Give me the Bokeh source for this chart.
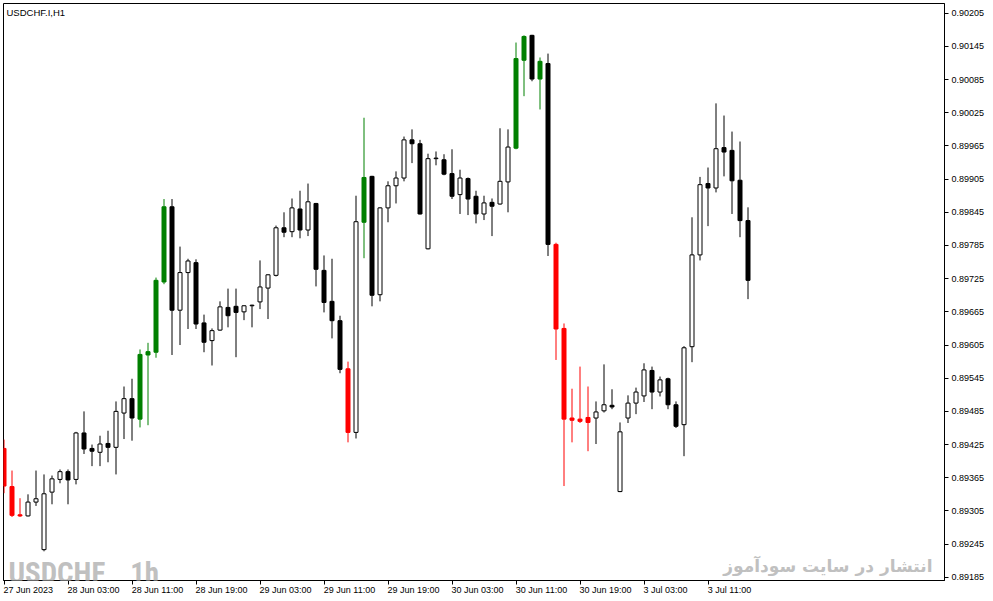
from bokeh.plotting import figure
from bokeh.models import (Range1d, FixedTicker, PrintfTickFormatter, Label, ColumnDataSource,
                          LinearAxis, CustomJSTickFormatter)
from bokeh.embed import file_html
from bokeh.resources import INLINE

chart_title = "USDCHF.I,H1"
watermark_left = "USDCHF _ 1h"
watermark_right = "انتشار در سایت سودآموز"

opens = [0.89418, 0.89349, 0.89298, 0.89296, 0.89321, 0.89235, 0.89339, 0.89362, 0.89376, 0.89362,
         0.89446, 0.89418, 0.89411, 0.89427, 0.89420, 0.89482, 0.89508, 0.89471, 0.89587, 0.89592,
         0.89719, 0.89855, 0.89668, 0.89736, 0.89754, 0.89645, 0.89613, 0.89632, 0.89673, 0.89675,
         0.89665, 0.89676, 0.89683, 0.89708, 0.89731, 0.89817, 0.89810, 0.89851, 0.89813, 0.89861,
         0.89740, 0.89684, 0.89649, 0.89562, 0.89447, 0.89827, 0.89910, 0.89696, 0.89853, 0.89893,
         0.89907, 0.89976, 0.89969, 0.89779, 0.89942, 0.89940, 0.89915, 0.89877, 0.89906, 0.89874,
         0.89842, 0.89863, 0.89860, 0.89900, 0.89961, 0.90120, 0.90165, 0.90086, 0.90114, 0.89787,
         0.89635, 0.89473, 0.89471, 0.89474, 0.89473, 0.89486, 0.89496, 0.89340, 0.89473, 0.89500,
         0.89513, 0.89559, 0.89520, 0.89544, 0.89497, 0.89461, 0.89602, 0.89768, 0.89897, 0.89889,
         0.89962, 0.89957, 0.89903, 0.89830]
highs = [0.89434, 0.89378, 0.89328, 0.89335, 0.89378, 0.89371, 0.89369, 0.89380, 0.89380, 0.89448,
         0.89485, 0.89425, 0.89441, 0.89450, 0.89503, 0.89530, 0.89544, 0.89597, 0.89609, 0.89727,
         0.89869, 0.89869, 0.89783, 0.89761, 0.89760, 0.89660, 0.89635, 0.89684, 0.89707, 0.89707,
         0.89677, 0.89678, 0.89758, 0.89733, 0.89821, 0.89845, 0.89870, 0.89884, 0.89897, 0.89862,
         0.89767, 0.89761, 0.89658, 0.89575, 0.89875, 0.90016, 0.89911, 0.89854, 0.89901, 0.89919,
         0.89982, 0.89995, 0.89976, 0.89951, 0.89955, 0.89950, 0.89959, 0.89922, 0.89908, 0.89884,
         0.89875, 0.89870, 0.89997, 0.89995, 0.90152, 0.90165, 0.90166, 0.90125, 0.90132, 0.89790,
         0.89644, 0.89526, 0.89566, 0.89530, 0.89503, 0.89570, 0.89525, 0.89465, 0.89514, 0.89528,
         0.89572, 0.89566, 0.89548, 0.89546, 0.89503, 0.89603, 0.89836, 0.89909, 0.89926, 0.90042,
         0.90020, 0.89991, 0.89973, 0.89854]
lows = [0.89337, 0.89294, 0.89294, 0.89295, 0.89314, 0.89232, 0.89317, 0.89355, 0.89317, 0.89353,
        0.89408, 0.89386, 0.89386, 0.89393, 0.89371, 0.89435, 0.89432, 0.89456, 0.89460, 0.89582,
        0.89715, 0.89587, 0.89605, 0.89634, 0.89634, 0.89592, 0.89568, 0.89631, 0.89637, 0.89583,
        0.89650, 0.89637, 0.89670, 0.89652, 0.89729, 0.89800, 0.89800, 0.89798, 0.89802, 0.89711,
        0.89664, 0.89617, 0.89554, 0.89429, 0.89436, 0.89762, 0.89675, 0.89684, 0.89827, 0.89861,
        0.89901, 0.89934, 0.89841, 0.89778, 0.89930, 0.89912, 0.89869, 0.89842, 0.89840, 0.89825,
        0.89831, 0.89802, 0.89859, 0.89845, 0.89959, 0.90055, 0.90082, 0.90031, 0.89766, 0.89578,
        0.89350, 0.89429, 0.89464, 0.89413, 0.89426, 0.89483, 0.89489, 0.89339, 0.89464, 0.89480,
        0.89502, 0.89489, 0.89512, 0.89489, 0.89455, 0.89404, 0.89574, 0.89758, 0.89820, 0.89881,
        0.89910, 0.89842, 0.89800, 0.89688]
closes = [0.89350, 0.89297, 0.89296, 0.89321, 0.89327, 0.89336, 0.89363, 0.89376, 0.89361, 0.89446,
          0.89417, 0.89413, 0.89426, 0.89420, 0.89485, 0.89508, 0.89473, 0.89588, 0.89593, 0.89722,
          0.89855, 0.89668, 0.89736, 0.89757, 0.89643, 0.89610, 0.89631, 0.89674, 0.89658, 0.89664,
          0.89676, 0.89677, 0.89710, 0.89732, 0.89817, 0.89809, 0.89853, 0.89813, 0.89864, 0.89742,
          0.89682, 0.89649, 0.89561, 0.89447, 0.89828, 0.89908, 0.89695, 0.89853, 0.89893, 0.89907,
          0.89976, 0.89969, 0.89842, 0.89942, 0.89943, 0.89914, 0.89874, 0.89907, 0.89869, 0.89842,
          0.89862, 0.89856, 0.89901, 0.89963, 0.90123, 0.90163, 0.90086, 0.90118, 0.89787, 0.89634,
          0.89471, 0.89469, 0.89467, 0.89465, 0.89484, 0.89497, 0.89493, 0.89448, 0.89500, 0.89520,
          0.89560, 0.89520, 0.89542, 0.89497, 0.89458, 0.89600, 0.89768, 0.89895, 0.89889, 0.89960,
          0.89954, 0.89902, 0.89830, 0.89722]
# 1 = up signal (green), -1 = down signal (red), 0 = none
signal = [-1, -1, -1, 0, 0, 0, 0, 0, 0, 0,
          0, 0, 0, 0, 0, 0, 0, 1, 1, 1,
          1, 0, 0, 0, 0, 0, 0, 0, 0, 0,
          0, 0, 0, 0, 0, 0, 0, 0, 0, 0,
          0, 0, 0, -1, 0, 1, 0, 0, 0, 0,
          0, 0, 0, 0, 0, 0, 0, 0, 0, 0,
          0, 0, 0, 0, 1, 1, 0, 1, 0, -1,
          -1, -1, -1, -1, 0, 0, 0, 0, 0, 0,
          0, 0, 0, 0, 0, 0, 0, 0, 0, 0,
          0, 0, 0, 0]

time_tick_bars = [0, 8, 16, 24, 32, 40, 48, 56, 64, 72, 80, 88]
time_tick_labels = ["27 Jun 2023", "28 Jun 03:00", "28 Jun 11:00", "28 Jun 19:00",
                    "29 Jun 03:00", "29 Jun 11:00", "29 Jun 19:00", "30 Jun 03:00",
                    "30 Jun 11:00", "30 Jun 19:00", "3 Jul 03:00", "3 Jul 11:00"]
price_ticks = [0.89185, 0.89245, 0.89305, 0.89365, 0.89425, 0.89485, 0.89545, 0.89605,
               0.89665, 0.89725, 0.89785, 0.89845, 0.89905, 0.89965, 0.90025, 0.90085,
               0.90145, 0.90205]

GREEN = "#008000"
RED = "#ff0000"

idx = list(range(len(opens)))
fills, lines, tops, bots = [], [], [], []
for o, c, s in zip(opens, closes, signal):
    if s == 1:
        fills.append(GREEN); lines.append(GREEN)
    elif s == -1:
        fills.append(RED); lines.append(RED)
    elif c >= o:
        fills.append("#ffffff"); lines.append("#000000")
    else:
        fills.append("#000000"); lines.append("#000000")
    tops.append(max(o, c)); bots.append(min(o, c))

src = ColumnDataSource(dict(x=idx, high=highs, low=lows, top=tops, bottom=bots,
                            fill=fills, line=lines))

W, H = 993, 601
BL, BT, BR, BB = 3, 3, 49, 21
FW, FH = W - BL - BR, H - BT - BB
BAR_PX = 8.0
x0 = -0.0625
x1 = x0 + FW / BAR_PX
y1 = 0.902226
y0 = y1 - FH * 0.0000180833
px_y = (y1 - y0) / FH
px_x = (x1 - x0) / FW

p = figure(width=W, height=H, x_range=Range1d(x0, x1), y_range=Range1d(y0, y1),
           y_axis_location="right", toolbar_location=None, output_backend="svg",
           min_border_left=BL, min_border_right=BR, min_border_top=BT, min_border_bottom=BB)
p.background_fill_color = "#ffffff"
p.border_fill_color = "#ffffff"
p.outline_line_color = "#000000"
p.outline_line_width = 1
p.grid.visible = False

p.segment(x0="x", y0="high", x1="x", y1="low", line_color="line", line_width=1, source=src)
p.vbar(x="x", top="top", bottom="bottom", width=0.5, fill_color="fill", line_color="line",
       line_width=1, source=src)

FONT = "Liberation Sans"
FS = 9

# x axis 1: tick marks only
xa = p.xaxis[0]
xa.axis_line_color = "#000000"
xa.major_tick_line_color = "#000000"
xa.major_tick_out = 4
xa.major_tick_in = 0
xa.minor_tick_line_color = None
xa.ticker = FixedTicker(ticks=time_tick_bars)
xa.major_label_overrides = {b: "" for b in time_tick_bars}
xa.major_label_text_font_size = "1px"
xa.major_label_standoff = 0

# x axis 2: labels only, left-aligned at each tick (MetaTrader style)
CW = {"0": .556, "1": .556, "2": .556, "3": .556, "4": .556, "5": .556, "6": .556, "7": .556,
      "8": .556, "9": .556, " ": .278, ":": .278, "J": .5, "u": .556, "n": .556, "l": .222}
label_pos = []
for b, lab in zip(time_tick_bars, time_tick_labels):
    wpx = sum(CW.get(ch, .55) for ch in lab) * FS
    label_pos.append(b + (wpx / 2.0 - 0.5) / BAR_PX)
xl = LinearAxis(ticker=FixedTicker(ticks=label_pos),
                formatter=CustomJSTickFormatter(args=dict(labs=time_tick_labels),
                                                code="return labs[index] || '';"))
xl.axis_line_color = None
xl.major_tick_line_color = None
xl.major_tick_out = 0
xl.major_tick_in = 0
xl.minor_tick_line_color = None
xl.major_label_standoff = 0
xl.major_label_text_font = FONT
xl.major_label_text_font_size = f"{FS}px"
xl.major_label_text_color = "#000000"
p.add_layout(xl, "below")

ya = p.yaxis[0]
ya.axis_line_color = "#000000"
ya.major_tick_line_color = "#000000"
ya.major_tick_out = 4
ya.major_tick_in = 0
ya.minor_tick_line_color = None
ya.major_label_text_font = FONT
ya.major_label_text_font_size = f"{FS}px"
ya.major_label_text_color = "#000000"
ya.ticker = FixedTicker(ticks=price_ticks)
ya.formatter = PrintfTickFormatter(format="%.5f")
ya.major_label_standoff = 3

p.add_layout(Label(x=x0 + 3 * px_x, y=y1 - 3 * px_y, text=chart_title, text_baseline="top",
                   text_font=FONT, text_font_size="9.5px", text_color="#000000"))
p.add_layout(Label(x=x0 + 5 * px_x, y=y0 + 8 * px_y, text=watermark_left, text_baseline="alphabetic",
                   text_font="Roboto Condensed, Roboto",
                   text_font_style="bold", text_font_size="29px", text_color="#c0c0c0"))
p.add_layout(Label(x=x1 - 12 * px_x, y=y0 + 15 * px_y, text=watermark_right, text_align="right",
                   text_baseline="alphabetic", text_font="DejaVu Sans", text_font_style="bold",
                   text_font_size="17px", text_color="#c0c0c0"))

open("out.html", "w").write(file_html(p, INLINE))
